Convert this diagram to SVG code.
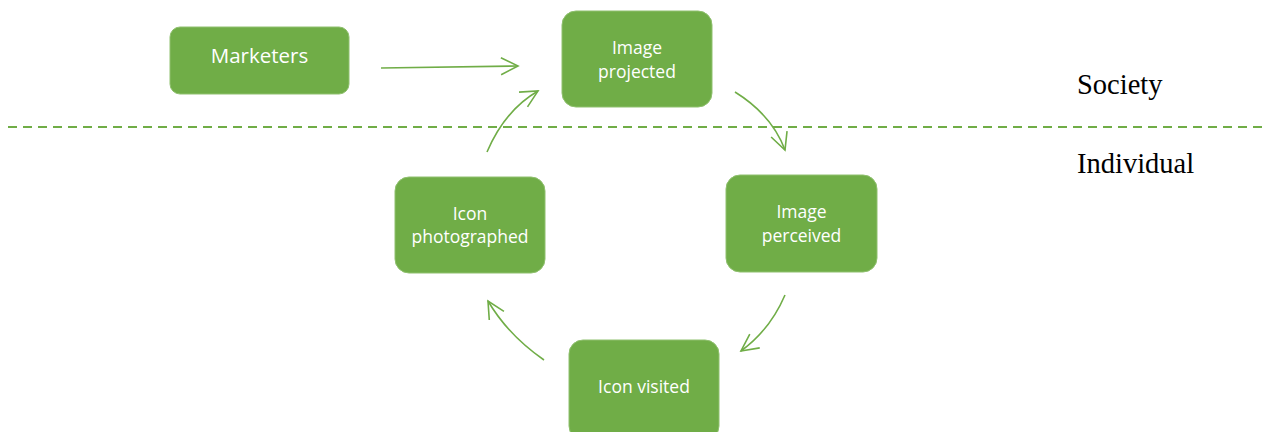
<svg xmlns="http://www.w3.org/2000/svg" width="1262" height="432" viewBox="0 0 1262 432">
<style>
.box{fill:#70AD47;stroke:#8FC06E;stroke-width:1}
.lbl{font-family:"Open Sans","Liberation Sans",sans-serif;font-size:17.5px;fill:#FFFFFF;text-anchor:middle}
.big{font-size:20.5px}
.side{font-family:"Liberation Serif","Times New Roman",serif;font-size:28.5px;fill:#000000}
.con{fill:none;stroke:#70AD47;stroke-width:1.6}
.dash{fill:none;stroke:#70AD47;stroke-width:2;stroke-dasharray:9 6}
</style>
<defs>
<marker id="arr" markerUnits="userSpaceOnUse" markerWidth="22" markerHeight="22" viewBox="-20 -11 22 22" refX="0" refY="0" orient="auto">
<path d="M-17,-8.5 L0,0 L-17,8.5" fill="none" stroke="#70AD47" stroke-width="1.6"/>
</marker>
</defs>
<rect width="1262" height="432" fill="#FFFFFF"/>
<path class="dash" d="M8,127 L1262,127"/>
<g id="connectors">
<path class="con" d="M381,68 L518,66" marker-end="url(#arr)"/>
<path class="con" d="M735,92 Q772,115 785,150" marker-end="url(#arr)"/>
<path class="con" d="M785,295 Q770,330 741,351" marker-end="url(#arr)"/>
<path class="con" d="M544,360 Q508,335 488,301" marker-end="url(#arr)"/>
<path class="con" d="M487,152 Q505,110 538,91" marker-end="url(#arr)"/>
</g>
<g id="marketers">
<rect class="box" x="170" y="27" width="179" height="67" rx="10"/>
<text class="lbl big" x="259.5" y="63">Marketers</text>
</g>
<g id="image-projected">
<rect class="box" x="562" y="11" width="150" height="96" rx="14"/>
<text class="lbl" x="637" y="54">Image</text>
<text class="lbl" x="637" y="78">projected</text>
</g>
<g id="image-perceived">
<rect class="box" x="726" y="175" width="151" height="97" rx="14"/>
<text class="lbl" x="801.5" y="218">Image</text>
<text class="lbl" x="801.5" y="242">perceived</text>
</g>
<g id="icon-visited">
<rect class="box" x="569" y="340" width="150" height="100" rx="14"/>
<text class="lbl" x="644" y="393">Icon visited</text>
</g>
<g id="icon-photographed">
<rect class="box" x="395" y="177" width="150" height="96" rx="14"/>
<text class="lbl" x="470" y="220">Icon</text>
<text class="lbl" x="470" y="243">photographed</text>
</g>
<g id="labels">
<text class="side" x="1077" y="94">Society</text>
<text class="side" x="1077" y="173">Individual</text>
</g>
</svg>
